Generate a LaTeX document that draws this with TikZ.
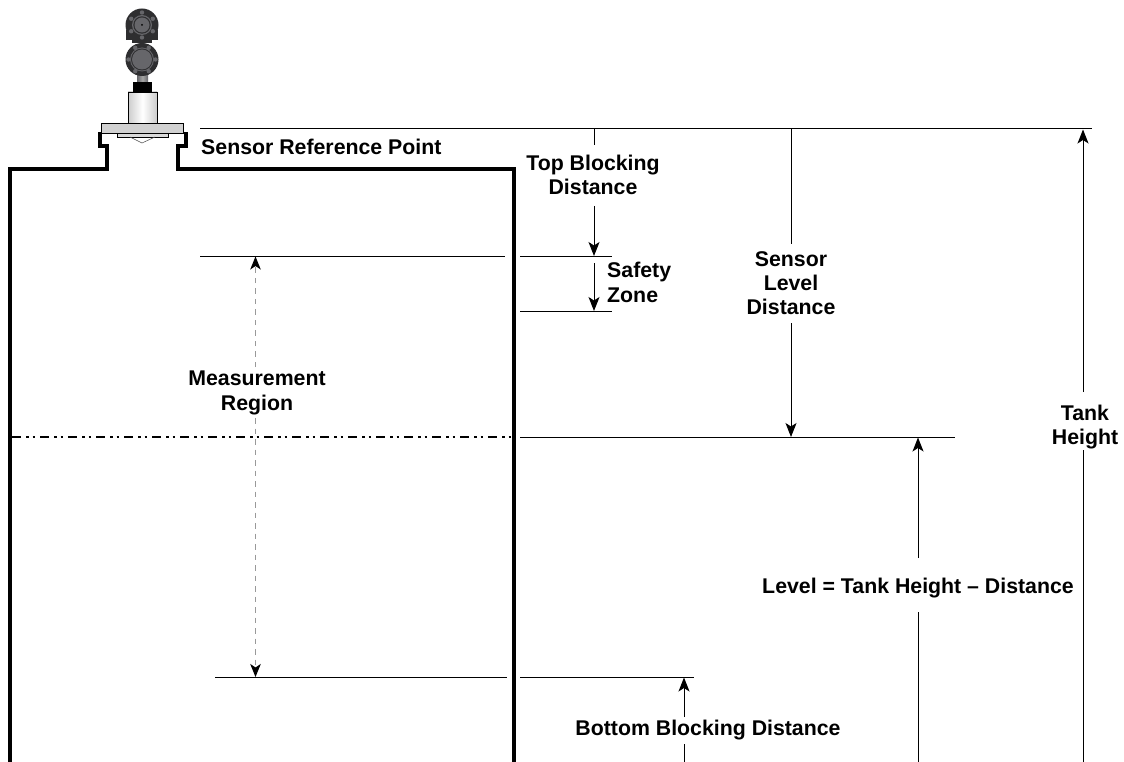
\documentclass[tikz,border=0pt]{standalone}
\usepackage{fontspec}
\setmainfont{Liberation Sans}
\usetikzlibrary{arrows.meta}
\definecolor{dkbody}{HTML}{2E2E30}
\definecolor{midg}{HTML}{66666A}
\tikzset{
  lbl/.style={font=\fontsize{21.3pt}{24.3pt}\selectfont\bfseries,align=center,inner sep=0pt,text=black},
  thin line/.style={draw=black,line width=1pt},
  arr/.style={thin line,-{Stealth[length=14pt,width=11pt,inset=3.5pt]}},
  wall/.style={draw=black,line width=4pt,line join=miter},
  measure/.style={draw=black!40,line width=1pt,dash pattern=on 5.5pt off 5pt,
    -{Stealth[length=13pt,width=10.5pt,inset=3.5pt,color=black]}},
  dashdot/.style={draw=black,line width=1.2pt,dash pattern=on 9pt off 5pt on 2.5pt off 4pt on 2.5pt off 5pt},
  part/.style={draw=black,line width=.6pt}
}
\begin{document}
\begin{tikzpicture}[x=1pt,y=-1pt]
\useasboundingbox (0,0) rectangle (1124,762);
\fill[white] (0,0) rectangle (1124,762);
% tank wall
\coordinate (wa) at (10,762);
\coordinate (wb) at (513.5,762);
\draw[wall] (wa) -- (10,169) -- (107,169) -- (107,146) -- (100,146) -- (100,132);
\draw[wall] (wb) -- (513.5,169) -- (178,169) -- (178,146) -- (186,146) -- (186,132);
% sensor
\draw[part,left color=black!20,right color=black!20,middle color=white] (128,92) rectangle (157,123);
\fill[black] (133,82) rectangle (152,92);
\fill[left color=midg,right color=midg,middle color=black!35] (137,74) rectangle (148,82);
\draw[part,fill=black!18] (101,123) rectangle (183,133);
\draw[part,fill=black!15,line width=.4pt] (117,133) rectangle (168,137);
\draw[black!70,line width=.5pt] (130,137) -- (142,143) -- (155,137);
\fill[dkbody] (126,30) rectangle (158,40);
\fill[dkbody] (132,40) rectangle (152,43);
\fill[dkbody] (142,25) circle[radius=16.5];
\fill[dkbody] (142,59.5) circle[radius=16.5];
\foreach \a in {0,60,...,300}{
  \fill[midg] (142,25) ++(\a+30:12.5) circle[radius=2.2];
  \fill[midg] (142,59.5) ++(\a:13.5) circle[radius=2.2];
}
\fill[midg] (142,59.5) circle[radius=12];
\fill[dkbody] (142,59.5) circle[radius=11];
\fill[midg] (142,59.5) circle[radius=10];
\fill[midg] (142,25) circle[radius=10];
\fill[dkbody] (142,25) circle[radius=8.7];
\fill[midg] (142,25) circle[radius=7.5];
\fill[black] (142,25) circle[radius=1];
% reference lines
\coordinate (ra) at (200,129); \coordinate (rb) at (1092,129);
\draw[thin line] (ra) -- (rb);
\coordinate (ma) at (200,256); \coordinate (mb) at (505,256);
\draw[thin line] (ma) -- (mb);
\coordinate (sa) at (520,256); \coordinate (sb) at (612,256);
\draw[thin line] (sa) -- (sb);
\coordinate (za) at (520,311); \coordinate (zb) at (612,311);
\draw[thin line] (za) -- (zb);
\coordinate (la) at (520,437); \coordinate (lb) at (955,437);
\draw[thin line] (la) -- (lb);
\coordinate (da) at (12,437); \coordinate (db) at (512,437);
\draw[dashdot] (da) -- (db);
\coordinate (ba) at (215,677); \coordinate (bb) at (507,677);
\draw[thin line] (ba) -- (bb);
\coordinate (ca) at (520,677); \coordinate (cb) at (694,677);
\draw[thin line] (ca) -- (cb);
% labels
\node[lbl,anchor=west] (srp) at (201,147) {Sensor Reference Point};
\node[lbl] (tbd) at (593,175) {Top Blocking\\Distance};
\node[lbl,align=left,anchor=west] (sz) at (607,282.5) {Safety\\Zone};
\node[lbl] (sld) at (791,283) {Sensor\\Level\\Distance};
\node[lbl] (mr) at (257,393) {Measurement\\Region};
\node[lbl] (th) at (1085,427) {Tank\\Height};
\node[lbl] (lv) at (918,588) {Level = Tank Height – Distance};
\node[lbl] (bbd) at (708,730) {Bottom Blocking Distance};
% dimension arrows
\coordinate (t1) at (594,129); \coordinate (t2) at (594,145);
\coordinate (t3) at (594,206); \coordinate (t4) at (594,256);
\draw[thin line] (t1) -- (t2);
\draw[arr] (t3) -- (t4);
\coordinate (z1) at (594,263); \coordinate (z2) at (594,311);
\draw[arr] (z1) -- (z2);
\coordinate (s1) at (791,129); \coordinate (s2) at (791,244);
\coordinate (s3) at (791,323); \coordinate (s4) at (791,437);
\draw[thin line] (s1) -- (s2);
\draw[arr] (s3) -- (s4);
\coordinate (m1) at (255.5,367); \coordinate (m2) at (255.5,256.5);
\coordinate (m3) at (255.5,418); \coordinate (m4) at (255.5,677);
\draw[measure] (m1) -- (m2);
\draw[measure] (m3) -- (m4);
\coordinate (l1) at (918,558); \coordinate (l2) at (918,437.5);
\coordinate (l3) at (918,762); \coordinate (l4) at (918,612);
\draw[arr] (l1) -- (l2);
\draw[thin line] (l3) -- (l4);
\coordinate (h1) at (1083,392); \coordinate (h2) at (1083,129.5);
\coordinate (h3) at (1083,762); \coordinate (h4) at (1083,450);
\draw[arr] (h1) -- (h2);
\draw[thin line] (h3) -- (h4);
\coordinate (b1) at (684,717); \coordinate (b2) at (684,677.5);
\coordinate (b3) at (684,762); \coordinate (b4) at (684,744);
\draw[arr] (b1) -- (b2);
\draw[thin line] (b3) -- (b4);
\end{tikzpicture}
\end{document}
